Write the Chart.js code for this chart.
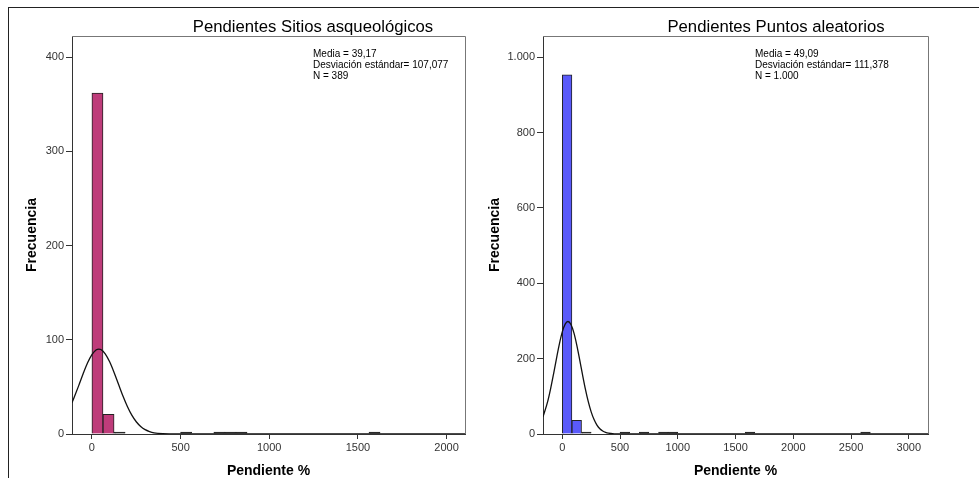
<!DOCTYPE html>
<html><head><meta charset="utf-8">
<script src="https://cdn.jsdelivr.net/npm/chart.js@4/dist/chart.umd.min.js"></script>
<style>
html,body{margin:0;padding:0;background:#fff;}
body{width:979px;height:478px;position:relative;overflow:hidden;}
#frame{position:absolute;left:8px;top:7px;width:990px;height:490px;border-top:1px solid #222;border-left:1px solid #222;}
#c1{position:absolute;left:0;top:0;}
#c2{position:absolute;left:480px;top:0;}
</style></head><body>
<div id="frame"></div>
<canvas id="c1" width="490" height="478"></canvas>
<canvas id="c2" width="499" height="478"></canvas>
<script>
const FONT = "'Liberation Sans', Arial, Helvetica, sans-serif";

// ---------- Left panel data ----------
const leftTitle = 'Pendientes Sitios asqueológicos';
const leftStats = ['Media = 39,17', 'Desviación estándar= 107,077', 'N = 389'];
const leftBinWidth = 62.5;
const leftBinStart = [0, 62.5, 125, 500, 687.5, 750, 812.5, 1562.5];
const leftCounts = [362, 21, 1, 1, 1, 1, 1, 1];
const leftCurveX = [-112.3, -75, -50, -25, 0, 25, 39.17, 50, 75, 100, 125, 150, 175, 200, 225, 250, 275, 300, 325, 350, 400, 450, 500, 2104];
const leftCurveY = [33.1, 51.1, 63.7, 75.3, 84.3, 89.4, 90.2, 89.7, 85.2, 76.7, 65.4, 52.8, 40.3, 29.2, 20.0, 13.0, 8.0, 4.6, 2.6, 1.3, 0.3, 0.1, 0, 0];
const leftXTicks = [0, 500, 1000, 1500, 2000];
const leftXTickLabels = ['0', '500', '1000', '1500', '2000'];
const leftYTicks = [0, 100, 200, 300, 400];
const leftYTickLabels = ['0', '100', '200', '300', '400'];
const leftXRange = [-112.3, 2104];
const leftYMax = 422.6;

// ---------- Right panel data ----------
const rightTitle = 'Pendientes Puntos aleatorios';
const rightStats = ['Media = 49,09', 'Desviación estándar= 111,378', 'N = 1.000'];
const rightBinWidth = 83.333;
const rightBinStart = [0, 83.333, 166.667, 500, 666.667, 833.333, 916.667, 1583.333, 2583.333];
const rightCounts = [953, 36, 2, 1, 1, 2, 2, 1, 2];
const rightCurveX = [-167, -125, -100, -75, -50, -25, 0, 25, 49.09, 75, 100, 125, 150, 175, 200, 225, 250, 275, 300, 325, 350, 375, 400, 450, 500, 3166];
const rightCurveY = [45.5, 88.0, 121.9, 160.5, 200.9, 239.3, 270.9, 291.6, 298.5, 290.5, 268.9, 236.6, 198.0, 157.6, 119.2, 85.8, 58.7, 38.2, 23.6, 13.9, 7.8, 4.1, 2.1, 0.5, 0.1, 0];
const rightXTicks = [0, 500, 1000, 1500, 2000, 2500, 3000];
const rightXTickLabels = ['0', '500', '1000', '1500', '2000', '2500', '3000'];
const rightYTicks = [0, 200, 400, 600, 800, 1000];
const rightYTickLabels = ['0', '200', '400', '600', '800', '1.000'];
const rightXRange = [-167, 3166];
const rightYMax = 1056;

const xAxisTitle = 'Pendiente %';
const yAxisTitle = 'Frecuencia';

const panelText = {
  id: 'panelText',
  afterDraw(chart, args, o) {
    const ctx = chart.ctx;
    const a = chart.chartArea;
    ctx.save();
    ctx.strokeStyle = '#777';
    ctx.lineWidth = 1;
    ctx.beginPath();
    ctx.moveTo(a.left, a.top + 0.5);
    ctx.lineTo(a.right + 0.5, a.top + 0.5);
    ctx.lineTo(a.right + 0.5, a.bottom);
    ctx.stroke();
    ctx.fillStyle = '#000';
    ctx.font = '16.7px ' + FONT;
    ctx.textAlign = 'center';
    ctx.textBaseline = 'alphabetic';
    ctx.fillText(o.title, o.titleX, 32);
    ctx.font = '10px ' + FONT;
    ctx.textAlign = 'left';
    o.stats.forEach((s, i) => ctx.fillText(s, o.statsX, 57.3 + i * 10.6));
    ctx.restore();
  }
};

function makeChart(id, p) {
  const curve = p.curveX.map((x, i) => ({x: x, y: p.curveY[i]}));
  const bars = p.binStart.map((s, i) => ({x: s + p.binWidth / 2, y: p.counts[i]}));
  return new Chart(document.getElementById(id), {
    type: 'bar',
    data: {
      datasets: [
        {type: 'line', data: curve, borderColor: '#111', borderWidth: 1.3, pointRadius: 0,
         cubicInterpolationMode: 'monotone', fill: false, order: 0},
        {type: 'bar', data: bars,
         backgroundColor: c => (c.raw && c.raw.y <= 2) ? '#333' : p.color,
         borderColor: '#222', borderWidth: 1,
         minBarLength: 2, barPercentage: 1, categoryPercentage: 1, order: 1}
      ]
    },
    options: {
      responsive: false,
      animation: false,
      layout: {padding: {left: 0, top: 36, right: p.padRight, bottom: 0}},
      plugins: {
        legend: {display: false},
        tooltip: {enabled: false},
        panelText: {title: p.title, titleX: p.titleX, stats: p.stats, statsX: p.statsX}
      },
      scales: {
        x: {
          type: 'linear', min: p.xRange[0], max: p.xRange[1], offset: false, bounds: 'data',
          afterBuildTicks: s => { s.ticks = p.xTicks.map(v => ({value: v})); },
          afterFit: s => { s.height = 44; },
          grid: {display: true, drawOnChartArea: false, drawTicks: true, tickLength: 5, color: '#333', offset: false},
          border: {display: true, color: '#333', width: 1},
          ticks: {callback: (v, i) => p.xTickLabels[i], font: {family: FONT, size: 11}, color: '#333',
                  padding: 2, maxRotation: 0, autoSkip: false},
          title: {display: true, text: xAxisTitle, color: '#000',
                  font: {family: FONT, size: 14, weight: 'bold', lineHeight: 1}, padding: {top: 0, bottom: 0}}
        },
        y: {
          type: 'linear', min: 0, max: p.yMax, bounds: 'data',
          afterBuildTicks: s => { s.ticks = p.yTicks.map(v => ({value: v})); },
          afterFit: s => { s.width = p.yAxisWidth; },
          grid: {display: true, drawOnChartArea: false, drawTicks: true, tickLength: 6, color: '#333'},
          border: {display: true, color: '#333', width: 1},
          ticks: {callback: (v, i) => p.yTickLabels[i], font: {family: FONT, size: 11}, color: '#333',
                  padding: 2, autoSkip: false},
          title: {display: true, text: yAxisTitle, color: '#000',
                  font: {family: FONT, size: 14, weight: 'bold', lineHeight: 1}, padding: {top: p.yTitlePad, bottom: 0}}
        }
      }
    },
    plugins: [panelText]
  });
}

makeChart('c1', {
  title: leftTitle, stats: leftStats, titleX: 313, statsX: 313,
  binWidth: leftBinWidth, binStart: leftBinStart, counts: leftCounts,
  curveX: leftCurveX, curveY: leftCurveY,
  xTicks: leftXTicks, xTickLabels: leftXTickLabels, yTicks: leftYTicks, yTickLabels: leftYTickLabels,
  xRange: leftXRange, yMax: leftYMax,
  color: '#BE3C7A', padRight: 25, yAxisWidth: 72, yTitlePad: 25
});

makeChart('c2', {
  title: rightTitle, stats: rightStats, titleX: 296, statsX: 275,
  binWidth: rightBinWidth, binStart: rightBinStart, counts: rightCounts,
  curveX: rightCurveX, curveY: rightCurveY,
  xTicks: rightXTicks, xTickLabels: rightXTickLabels, yTicks: rightYTicks, yTickLabels: rightYTickLabels,
  xRange: rightXRange, yMax: rightYMax,
  color: '#5A5AFA', padRight: 51, yAxisWidth: 63, yTitlePad: 8
});
</script>
</body></html>
